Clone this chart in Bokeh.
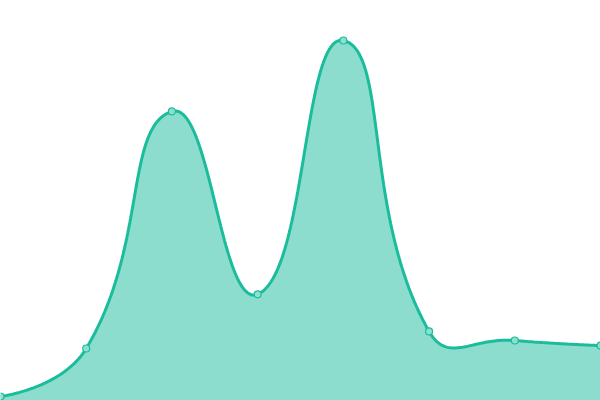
import numpy as np
from bokeh.plotting import figure
from bokeh.embed import file_html
from bokeh.resources import INLINE

# data
categories = ["A", "B", "C", "D", "E", "F", "G", "H"]
values = [1.1, 14.3, 79.5, 29.2, 99.0, 19.0, 16.5, 15.1]

W, H = 600, 400
Y_MAX = 110.0
x = np.arange(len(categories), dtype=float)
y = np.array(values, dtype=float)

# ECharts-like bezier smoothing (computed in pixel-proportional space)
sx = W / (len(x) - 1)
sy = H / Y_MAX
smooth = 0.5
px, py = x * sx, y * sy
n = len(px)
cps_in = []   # control point before each point
cps_out = []  # control point after each point
for i in range(n):
    if i == 0 or i == n - 1:
        cps_in.append((px[i], py[i]))
        cps_out.append((px[i], py[i]))
        continue
    vx, vy = px[i + 1] - px[i - 1], py[i + 1] - py[i - 1]
    l0 = np.hypot(px[i] - px[i - 1], py[i] - py[i - 1])
    l1 = np.hypot(px[i + 1] - px[i], py[i + 1] - py[i])
    r = l1 / (l0 + l1)
    cps_in.append((px[i] - vx * smooth * (1 - r), py[i] - vy * smooth * (1 - r)))
    cps_out.append((px[i] + vx * smooth * r, py[i] + vy * smooth * r))

cx, cy = [], []
t = np.linspace(0, 1, 60)
for i in range(n - 1):
    p0 = np.array([px[i], py[i]])
    p1 = np.array(cps_out[i])
    p2 = np.array(cps_in[i + 1])
    p3 = np.array([px[i + 1], py[i + 1]])
    tt = t[:, None] if i == 0 else t[1:, None]
    b = ((1 - tt) ** 3) * p0 + 3 * ((1 - tt) ** 2) * tt * p1 + 3 * (1 - tt) * tt ** 2 * p2 + tt ** 3 * p3
    cx.extend(b[:, 0] / sx)
    cy.extend(b[:, 1] / sy)

p = figure(width=W, height=H, output_backend="svg", toolbar_location=None,
           x_range=(0, len(x) - 1), y_range=(0, Y_MAX), min_border=0)
p.axis.visible = False
p.grid.visible = False
p.outline_line_color = None
p.background_fill_color = "white"
p.border_fill_color = "white"

color = "#1abc9c"
p.varea(x=cx, y1=0, y2=cy, fill_color=color, fill_alpha=0.5)
p.line(cx, cy, line_color=color, line_width=3)
p.scatter(x, y, size=7, fill_color="#8de0cf", line_color=color, line_width=1.2)

open("out.html", "w").write(file_html(p, INLINE))
